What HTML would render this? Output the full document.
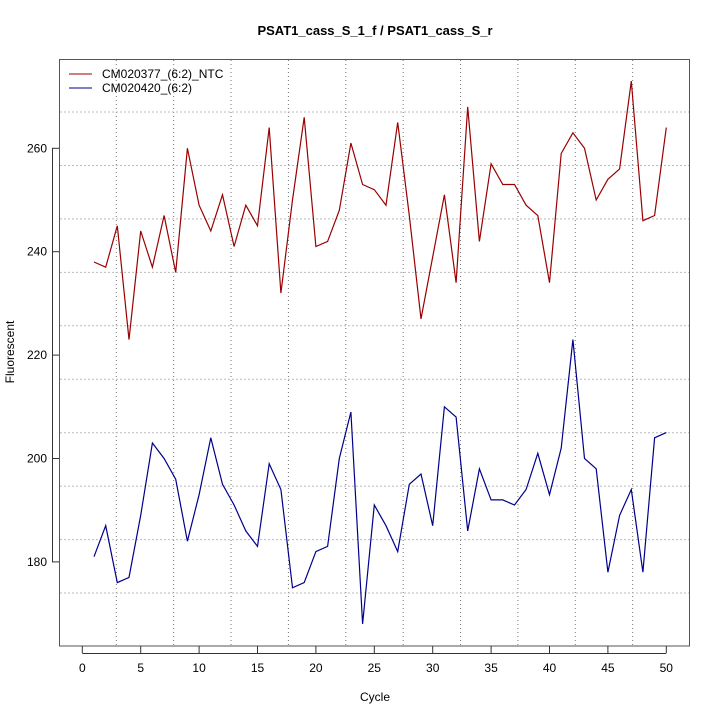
<!DOCTYPE html>
<html><head><meta charset="utf-8"><style>body{margin:0;background:#fff}svg{display:block;font-family:"Liberation Sans",sans-serif}</style></head>
<body>
<svg id="s" width="720" height="720" xmlns="http://www.w3.org/2000/svg">
<rect width="720" height="720" fill="#fff"/>
<g id="gridv" stroke="#777" stroke-width="1" stroke-dasharray="1,3"></g>
<g id="gridh" stroke="#bbb" stroke-width="1" stroke-dasharray="2,2"></g>
<rect x="59.5" y="59.5" width="630" height="586.5" fill="none" stroke="#555" stroke-width="1"/>
<g id="ax" stroke="#333"></g>
<g id="lab" font-size="12" fill="#000"></g>
<text x="375" y="35" text-anchor="middle" font-size="13" font-weight="bold">PSAT1_cass_S_1_f / PSAT1_cass_S_r</text>
<text x="375" y="701" text-anchor="middle" font-size="12">Cycle</text>
<text transform="translate(14,352) rotate(-90)" text-anchor="middle" font-size="12">Fluorescent</text>
<line x1="69" y1="74" x2="92" y2="74" stroke="#990000" stroke-width="1"/>
<line x1="69" y1="88" x2="92" y2="88" stroke="#00008b" stroke-width="1"/>
<text x="102" y="78" font-size="12">CM020377_(6:2)_NTC</text>
<text x="102" y="92" font-size="12">CM020420_(6:2)</text>
<polyline id="r" fill="none" stroke="#990000" stroke-width="1.2"/>
<polyline id="b" fill="none" stroke="#00008b" stroke-width="1.2"/>
</svg>
<script>
const R=[238,237,245,223,244,237,247,236,260,249,244,251,241,249,245,264,232,250,266,241,242,248,261,253,252,249,265,247,227,239,251,234,268,242,257,253,253,249,247,234,259,263,260,250,254,256,273,246,247,264];
const B=[181,187,176,177,189,203,200,196,184,193,204,195,191,186,183,199,194,175,176,182,183,200,209,168,191,187,182,195,197,187,210,208,186,198,192,192,191,194,201,193,202,223,200,198,178,189,194,178,204,205];
const X=c=>82.3+c*11.68, Y=v=>561.9-(v-180)*5.17;
const pts=a=>a.map((v,i)=>X(i+1).toFixed(1)+','+Y(v).toFixed(1)).join(' ');
document.getElementById('r').setAttribute('points',pts(R));
document.getElementById('b').setAttribute('points',pts(B));
const NS='http://www.w3.org/2000/svg';
function el(p,t,a,txt){const e=document.createElementNS(NS,t);for(const k in a)e.setAttribute(k,a[k]);if(txt!==undefined)e.textContent=txt;document.getElementById(p).appendChild(e);}
for(let i=0;i<10;i++){const x=116.3+i*57.37;el('gridv','line',{x1:x,y1:60,x2:x,y2:645});}
for(let i=0;i<10;i++){const y=112+i*53.45;el('gridh','line',{x1:60,y1:y,x2:689,y2:y});}
for(let c=0;c<=50;c+=5){const x=X(c);el('ax','line',{x1:x,y1:646,x2:x,y2:653});el('lab','text',{x:x,y:672,'text-anchor':'middle'},String(c));}
el('ax','line',{x1:X(0),y1:653.5,x2:X(50),y2:653.5});
for(let v=180;v<=260;v+=20){const y=Y(v);el('ax','line',{x1:52,y1:y,x2:59,y2:y});el('lab','text',{x:47,y:y+4,'text-anchor':'end'},String(v));}
el('ax','line',{x1:52.5,y1:Y(180),x2:52.5,y2:Y(260)});
</script>
</body></html>
